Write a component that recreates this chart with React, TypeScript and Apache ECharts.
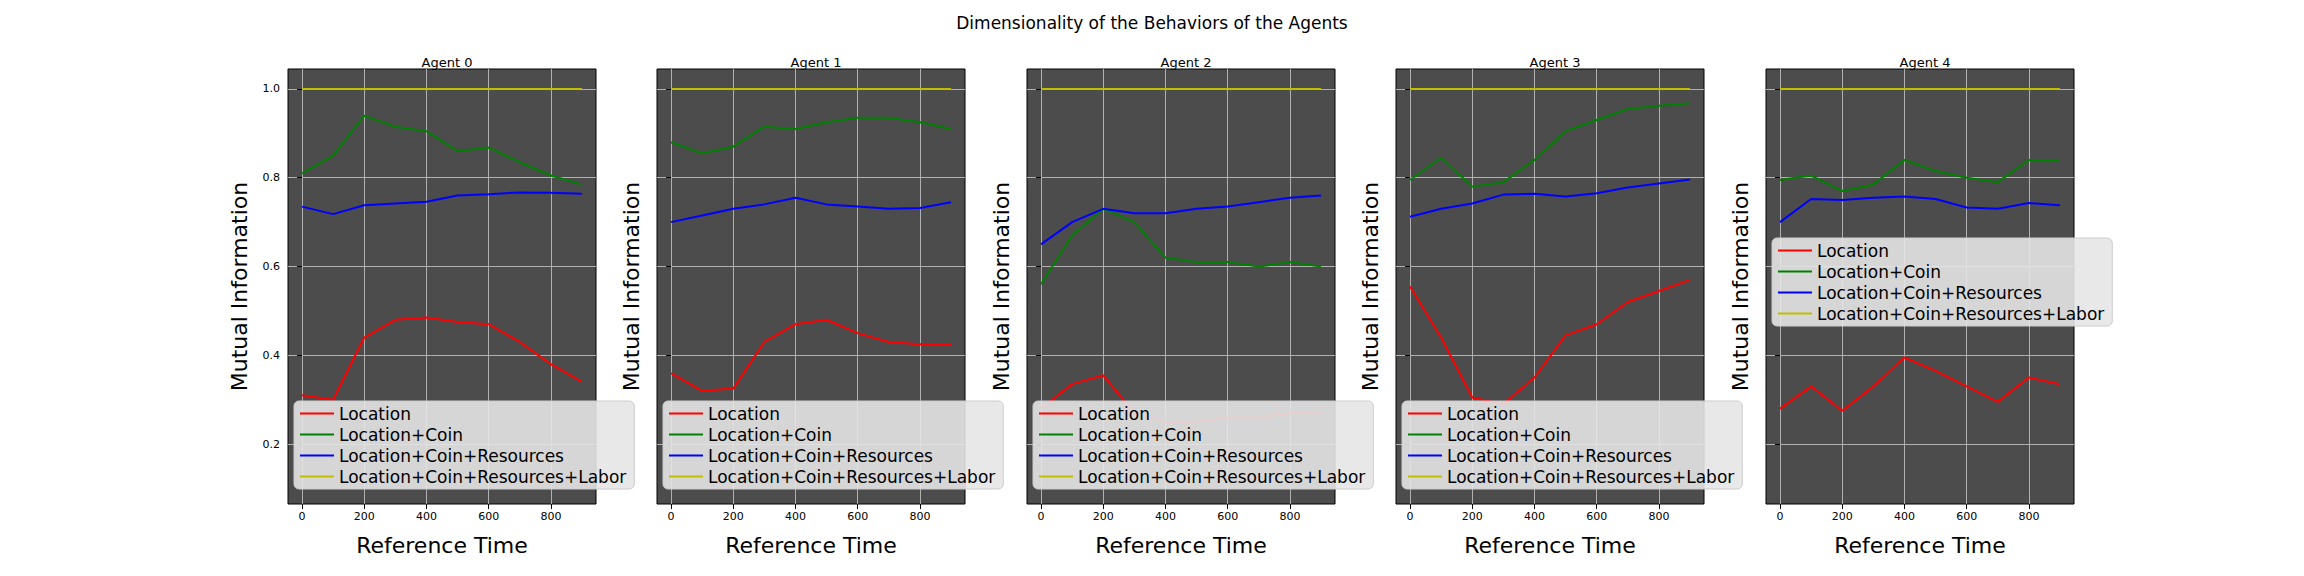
import { useEffect, useRef } from 'react';
import * as echarts from 'echarts';

const TIMES = [0, 100, 200, 300, 400, 500, 600, 700, 800, 900];
const AGENTS = ['Agent 0', 'Agent 1', 'Agent 2', 'Agent 3', 'Agent 4'];
const SERIES_NAMES = ['Location', 'Location+Coin', 'Location+Coin+Resources', 'Location+Coin+Resources+Labor'];
const COLORS = ['#ff0000', '#008000', '#0000ff', '#bfbf00'];

const LOCATION = [
  [0.31, 0.30, 0.44, 0.48, 0.485, 0.475, 0.47, 0.43, 0.38, 0.34],
  [0.36, 0.32, 0.325, 0.43, 0.47, 0.48, 0.45, 0.43, 0.425, 0.425],
  [0.28, 0.335, 0.355, 0.27, 0.25, 0.25, 0.26, 0.26, 0.27, 0.27],
  [0.555, 0.44, 0.305, 0.29, 0.35, 0.445, 0.47, 0.52, 0.545, 0.57],
  [0.28, 0.33, 0.275, 0.33, 0.395, 0.365, 0.33, 0.295, 0.35, 0.335],
];
const LOC_COIN = [
  [0.81, 0.85, 0.94, 0.915, 0.905, 0.86, 0.868, 0.835, 0.805, 0.785],
  [0.88, 0.855, 0.87, 0.915, 0.91, 0.925, 0.935, 0.935, 0.925, 0.91],
  [0.56, 0.67, 0.73, 0.70, 0.62, 0.61, 0.61, 0.60, 0.61, 0.60],
  [0.795, 0.845, 0.78, 0.79, 0.84, 0.905, 0.93, 0.955, 0.962, 0.968],
  [0.795, 0.805, 0.77, 0.785, 0.84, 0.815, 0.80, 0.79, 0.84, 0.84],
];
const LOC_COIN_RES = [
  [0.735, 0.718, 0.738, 0.742, 0.746, 0.76, 0.763, 0.767, 0.766, 0.764],
  [0.70, 0.715, 0.73, 0.74, 0.755, 0.74, 0.735, 0.73, 0.732, 0.745],
  [0.65, 0.70, 0.73, 0.72, 0.72, 0.73, 0.735, 0.745, 0.755, 0.76],
  [0.712, 0.73, 0.742, 0.762, 0.764, 0.758, 0.765, 0.778, 0.787, 0.796],
  [0.70, 0.752, 0.75, 0.755, 0.758, 0.752, 0.733, 0.73, 0.743, 0.738],
];
const LOC_COIN_RES_LAB = [
  [1, 1, 1, 1, 1, 1, 1, 1, 1, 1],
  [1, 1, 1, 1, 1, 1, 1, 1, 1, 1],
  [1, 1, 1, 1, 1, 1, 1, 1, 1, 1],
  [1, 1, 1, 1, 1, 1, 1, 1, 1, 1],
  [1, 1, 1, 1, 1, 1, 1, 1, 1, 1],
];
const X_TICKS = [0, 200, 400, 600, 800];
const Y_TICKS = [0.2, 0.4, 0.6, 0.8, 1.0];

const GRID_LEFTS = [288, 657, 1027, 1396, 1766];
const GRID_W = 308;
const GRID_TOP = 69;
const GRID_H = 435;

export default function App() {
  const ref = useRef<HTMLDivElement>(null);

  useEffect(() => {
    document.body.style.margin = '0';
    if (!ref.current) return;
    const chart = echarts.init(ref.current, null, { renderer: 'svg' });
    const font = 'DejaVu Sans';
    const allData = [LOCATION, LOC_COIN, LOC_COIN_RES, LOC_COIN_RES_LAB];

    const grids = GRID_LEFTS.map((left) => ({
      left, top: GRID_TOP, width: GRID_W, height: GRID_H,
      show: true, backgroundColor: '#4c4c4c', borderColor: '#000', borderWidth: 1,
    }));
    const xAxes = AGENTS.map((_, i) => ({
      type: 'value', gridIndex: i, min: -45, max: 945, interval: 200,
      name: 'Reference Time', nameLocation: 'middle', nameGap: 30,
      nameTextStyle: { fontSize: 22, color: '#000', fontFamily: font },
      axisLine: { show: false },
      axisTick: { show: true, length: 5, lineStyle: { color: '#000' }, customValues: X_TICKS },
      axisLabel: { fontSize: 11, color: '#000', fontFamily: font, customValues: X_TICKS, margin: 7 },
      splitLine: { show: true, lineStyle: { color: '#b0b0b0', width: 1 } },
    }));
    const yAxes = AGENTS.map((_, i) => ({
      type: 'value', gridIndex: i, min: 0.065, max: 1.045,
      name: 'Mutual Information', nameLocation: 'middle', nameGap: i === 0 ? 38 : 15,
      nameTextStyle: { fontSize: 22, color: '#000', fontFamily: font },
      axisLine: { show: false },
      axisTick: { show: true, length: 5, lineStyle: { color: '#000' }, customValues: Y_TICKS },
      axisLabel: {
        show: i === 0, fontSize: 11, color: '#000', fontFamily: font, customValues: Y_TICKS, margin: 8,
        formatter: (v: number) => v.toFixed(1),
      },
      splitLine: { show: true, lineStyle: { color: '#b0b0b0', width: 1 } },
    }));
    const series: any[] = [];
    AGENTS.forEach((_, a) => {
      SERIES_NAMES.forEach((name, s) => {
        series.push({
          type: 'line', name, xAxisIndex: a, yAxisIndex: a, showSymbol: false,
          lineStyle: { color: COLORS[s], width: 2 }, itemStyle: { color: COLORS[s] },
          data: TIMES.map((t, k) => [t, allData[s][a][k]]),
        });
      });
    });
    const legends = GRID_LEFTS.map((left, i) => ({
      data: SERIES_NAMES, orient: 'vertical', left: left + 6, top: i === 4 ? 238 : 401,
      backgroundColor: 'rgba(230,230,230,0.9)', borderColor: '#ccc', borderWidth: 1, borderRadius: 5,
      padding: [4, 8, 4, 6], itemGap: 4, itemWidth: 34, itemHeight: 2,
      icon: 'rect', selectedMode: false,
      textStyle: { fontSize: 17, color: '#000', fontFamily: font },
    }));

    chart.setOption({
      animation: false,
      title: [
        { text: 'Dimensionality of the Behaviors of the Agents', left: 'center', top: 9,
          textStyle: { fontSize: 17, fontWeight: 'normal', color: '#000', fontFamily: font } },
        ...AGENTS.map((t, i) => ({
          text: t, left: GRID_LEFTS[i] + GRID_W / 2, top: 51, textAlign: 'center',
          textStyle: { fontSize: 13, fontWeight: 'normal', color: '#000', fontFamily: font },
        })),
      ],
      legend: legends,
      grid: grids,
      xAxis: xAxes,
      yAxis: yAxes,
      series,
    });
    return () => chart.dispose();
  }, []);

  return <div ref={ref} style={{ width: 2304, height: 576, background: '#fff' }} />;
}
